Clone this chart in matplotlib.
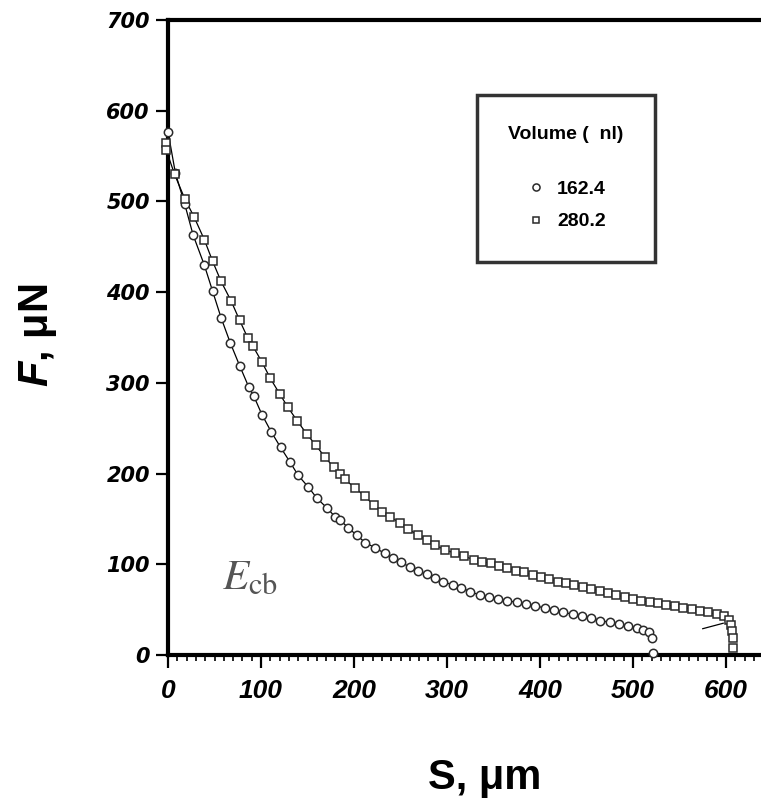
import matplotlib
matplotlib.use('Agg')
import matplotlib.pyplot as plt
from matplotlib.lines import Line2D
from matplotlib.ticker import MultipleLocator

# ── data ──────────────────────────────────────────────────────────────────────
# volume 162.4 nl (circles)
s_162 = [0, 8, 18, 27, 39, 48, 57, 67, 77, 87, 92, 101, 111, 121, 131, 140,
         151, 160, 171, 180, 185, 194, 203, 212, 223, 233, 242, 251, 260, 269,
         278, 287, 296, 306, 315, 325, 335, 345, 355, 365, 375, 385, 395, 405,
         415, 425, 435, 445, 455, 465, 475, 485, 495, 504, 511, 517, 520, 521]
f_162 = [577, 531, 497, 463, 430, 401, 372, 344, 319, 295, 286, 265, 246, 229,
         213, 198, 185, 173, 162, 152, 149, 140, 132, 124, 118, 112, 107, 102,
         97, 93, 89, 85, 81, 77, 74, 70, 66, 64, 62, 60, 58, 56, 54, 52, 50, 47,
         45, 43, 41, 38, 36, 34, 32, 30, 28, 25, 19, 2]

# volume 280.2 nl (squares)
s_280 = [-2, -2, 7, 18, 28, 39, 48, 57, 68, 77, 86, 91, 101, 110, 120, 129,
         139, 149, 159, 169, 178, 185, 190, 201, 212, 221, 230, 239, 249, 258,
         269, 278, 287, 298, 309, 318, 329, 338, 347, 356, 365, 374, 383, 392,
         401, 410, 419, 428, 437, 446, 455, 464, 473, 482, 491, 500, 509, 518,
         527, 536, 545, 554, 563, 572, 581, 590, 598, 603, 605, 606, 607, 608]
f_280 = [564, 557, 530, 503, 483, 458, 434, 412, 390, 369, 349, 341, 323, 305,
         288, 273, 258, 244, 231, 218, 207, 200, 194, 184, 175, 165, 158, 152,
         146, 139, 132, 127, 121, 116, 112, 109, 105, 103, 101, 98, 96, 93, 91,
         88, 86, 84, 81, 79, 77, 75, 73, 71, 68, 66, 64, 62, 60, 58, 57, 55, 54,
         52, 51, 49, 47, 45, 43, 39, 33, 26, 19, 8]

# short stray piece of the fitted curve near the end of the 280.2 run
tail_s = [575, 597]
tail_f = [29, 35]

labels = ['162.4', '280.2']
x_ticks = [0, 100, 200, 300, 400, 500, 600]
y_ticks = [0, 100, 200, 300, 400, 500, 600, 700]

plt.rcParams['mathtext.fontset'] = 'custom'
plt.rcParams['mathtext.it'] = 'Liberation Sans:bold:italic'
plt.rcParams['mathtext.rm'] = 'Liberation Sans:bold'

W, H = 761, 805
fig = plt.figure(figsize=(W / 100, H / 100), dpi=100)
ax = fig.add_axes([168 / W, 1 - 655 / H, (W - 168) / W, (655 - 20) / H])

EDGE = '#2a2a2a'
ax.plot(s_162[:-2], f_162[:-2], '-', color='black', lw=0.9, zorder=2)
ax.plot(s_280[:-4], f_280[:-4], '-', color='black', lw=0.9, zorder=2)
ax.plot(tail_s, tail_f, '-', color='black', lw=0.9, zorder=2)
ax.plot(s_162, f_162, 'o', ms=6.0, mfc='white', mec=EDGE, mew=1.1,
        clip_on=False, zorder=3)
ax.plot(s_280, f_280, 's', ms=5.3, mfc='white', mec=EDGE, mew=1.1,
        clip_on=False, zorder=3)

ax.set_xlim(0, (W - 168) / 0.93)
ax.set_ylim(0, 700)

for side in ['left', 'top', 'bottom']:
    ax.spines[side].set_linewidth(3)
    ax.spines[side].set_color('black')
ax.spines['right'].set_visible(False)

ax.set_xticks(x_ticks)
ax.set_xticklabels([str(v) for v in x_ticks])
ax.xaxis.set_minor_locator(MultipleLocator(10))
ax.set_yticks(y_ticks)
ax.set_yticklabels([str(v) for v in y_ticks])
ax.tick_params(axis='x', which='major', direction='out', length=9, width=1.6,
               pad=8)
ax.tick_params(axis='x', which='minor', direction='out', length=4, width=1.2)
ax.tick_params(axis='y', which='major', direction='out', length=9, width=1.6,
               pad=4)
for t in ax.get_xticklabels():
    t.set_fontfamily('Liberation Sans')
    t.set_fontweight('bold')
    t.set_fontstyle('italic')
    t.set_fontsize(19)
for t in ax.get_yticklabels():
    t.set_fontfamily('DejaVu Sans')
    t.set_fontweight('bold')
    t.set_fontstyle('italic')
    t.set_fontsize(15)

fig.text(485 / W, 1 - 778 / H, 'S, μm', ha='center', va='center',
         fontsize=30, fontweight='bold', family='Liberation Sans')
fig.text(38 / W, 1 - 335 / H, r'$F$, μN', ha='center', va='center',
         rotation=90, fontsize=30, fontweight='bold', family='Liberation Sans')

ax.text(58, 72, r'$E_{\mathrm{cb}}$', math_fontfamily='stix', fontsize=31,
        color='#555555', ha='left', va='baseline')

handles = [Line2D([], [], ls='none', marker='o', ms=6.0, mfc='white',
                  mec=EDGE, mew=1.1),
           Line2D([], [], ls='none', marker='s', ms=5.3, mfc='white',
                  mec=EDGE, mew=1.1)]
leg = ax.legend(handles, labels, title='Volume (  nl)', loc='upper left',
                bbox_to_anchor=(477 / W, 1 - 95 / H),
                bbox_transform=fig.transFigure,
                prop={'family': 'Liberation Sans', 'weight': 'bold',
                      'size': 14},
                title_fontproperties={'family': 'Liberation Sans',
                                      'weight': 'bold', 'size': 14},
                frameon=True, fancybox=False, edgecolor='black',
                borderpad=1.6, labelspacing=0.75, handlelength=1.0,
                handletextpad=0.6, markerscale=0.85, borderaxespad=0)
leg.get_frame().set_linewidth(2.5)
leg._legend_box.sep = 27

fig.savefig('out.png', dpi=100)
